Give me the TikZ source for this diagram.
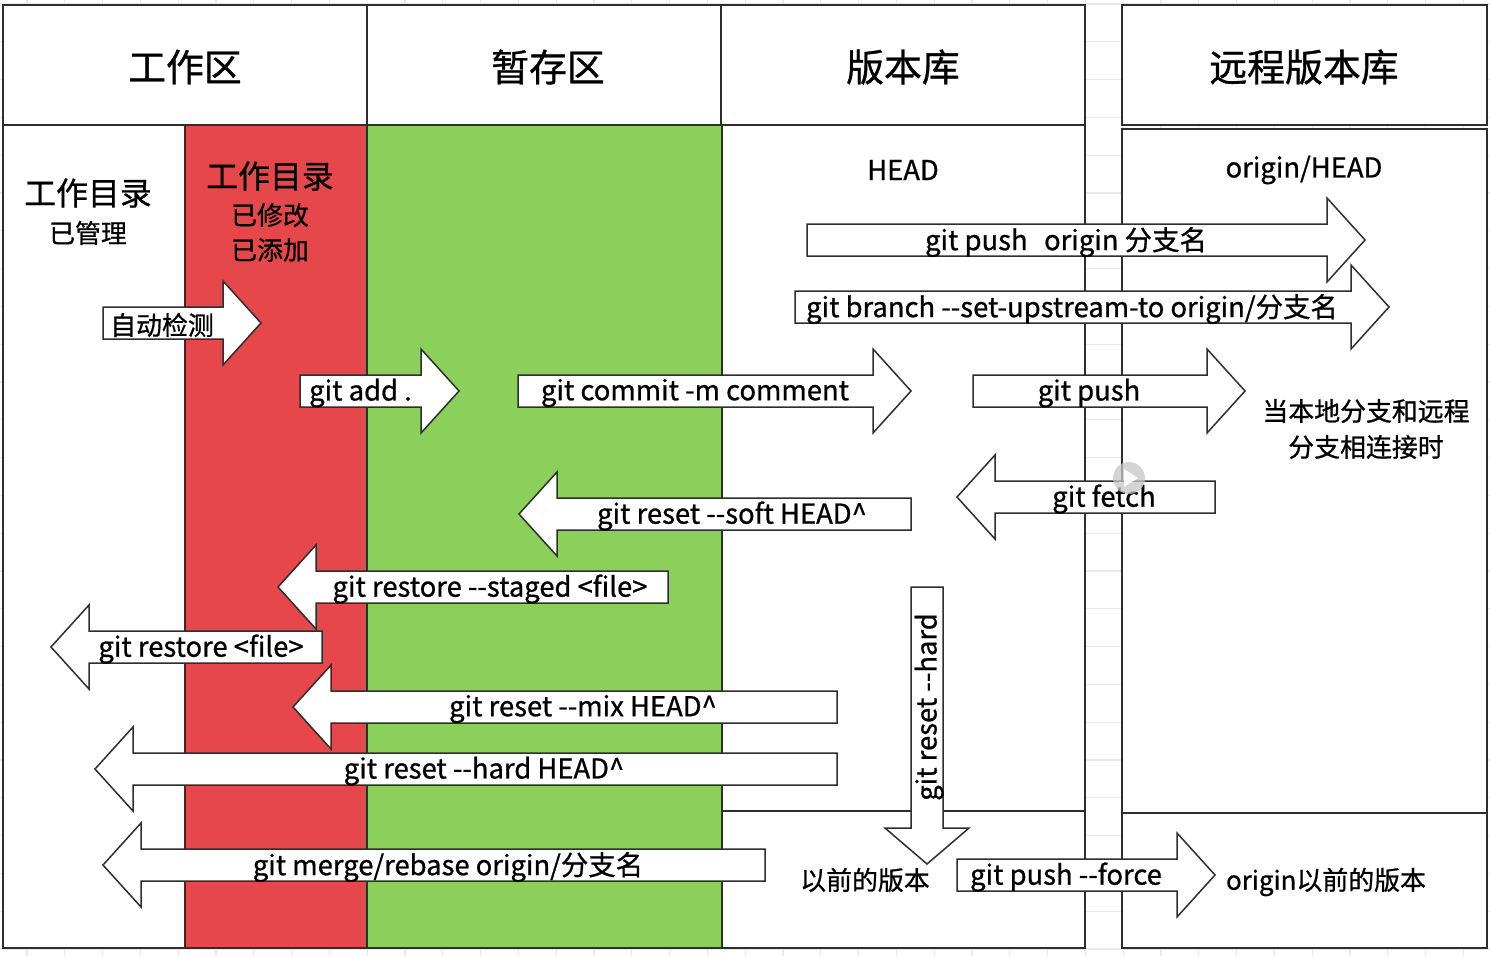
\documentclass[tikz,border=0pt]{standalone}
\usepackage{fontspec}
\setmainfont{Noto Sans CJK SC}[FakeBold=0.8]
\definecolor{redc}{HTML}{E5474B}
\definecolor{greenc}{HTML}{8BD05A}
\definecolor{linec}{HTML}{2E2E2E}
\definecolor{gridc}{HTML}{E8E8E8}
\newcommand{\dd}{-{}-}
\newcommand{\RArr}[3]{\draw[blockarrow] (#1,{#3-16}) -- ({#2-38},{#3-16}) -- ({#2-38},{#3-42}) -- (#2,#3) -- ({#2-38},{#3+42}) -- ({#2-38},{#3+16}) -- (#1,{#3+16}) -- cycle;}
\newcommand{\LArr}[3]{\draw[blockarrow] (#2,{#3-16}) -- ({#1+38},{#3-16}) -- ({#1+38},{#3-42}) -- (#1,#3) -- ({#1+38},{#3+42}) -- ({#1+38},{#3+16}) -- (#2,{#3+16}) -- cycle;}
\newcommand{\DArr}[3]{\draw[blockarrow] ({#1-16},#2) -- ({#1-16},{#3-36}) -- ({#1-42},{#3-36}) -- (#1,#3) -- ({#1+42},{#3-36}) -- ({#1+16},{#3-36}) -- ({#1+16},#2) -- cycle;}
\tikzset{
  frame/.style={draw=linec, line width=2bp},
  blockarrow/.style={draw=linec, line width=1.5bp, fill=white, line join=miter},
  lbl/.style={inner sep=0pt, font=\fontsize{26}{30}\selectfont, text=black},
  albl/.style={inner sep=0pt, font=\fontsize{27.5}{32}\selectfont, text=black},
  big/.style={inner sep=0pt, font=\fontsize{38}{44}\selectfont, text=black},
  mid/.style={inner sep=0pt, font=\fontsize{32}{38}\selectfont, text=black},
}
\begin{document}
\begin{tikzpicture}[x=1bp, y=-1bp]
\useasboundingbox (0,0) rectangle (1490,956);
\fill[white] (0,0) rectangle (1490,956);
% background grid
\foreach \i in {0,...,38} \draw[gridc, line width=1.2bp] ({27+37.8*\i},0) -- ({27+37.8*\i},956);
\foreach \j in {0,...,25} \draw[gridc, line width=1.2bp] (0,{4+37.8*\j}) -- (1490,{4+37.8*\j});
% left block
\filldraw[frame, fill=white] (3,5) rectangle (1085,948);
\filldraw[frame, fill=redc] (185,125) rectangle (367,948);
\filldraw[frame, fill=greenc] (367,125) rectangle (722,948);
\draw[frame] (3,125) -- (1085,125);
\draw[frame] (367,5) -- (367,125);
\draw[frame] (721,5) -- (721,125);
\draw[frame] (722,811) -- (1085,811);
% right block
\filldraw[frame, fill=white] (1122,5) rectangle (1487,125);
\filldraw[frame, fill=white] (1122,129) rectangle (1487,813);
\filldraw[frame, fill=white] (1122,813) rectangle (1487,948);
% headers
\node[big] (h1) at (185,67) {工作区};
\node[big] (h2) at (548,67) {暂存区};
\node[big] (h3) at (903,67) {版本库};
\node[big] (h4) at (1304,67) {远程版本库};
% column labels
\node[mid] (w1) at (88,193) {工作目录};
\node[lbl] (w2) at (88,233) {已管理};
\node[mid] (r1) at (270,176) {工作目录};
\node[lbl] (r2) at (270,215) {已修改};
\node[lbl] (r3) at (270,250) {已添加};
\node[albl] (head) at (903,170) {HEAD};
\node[albl] (ohead) at (1304,170) {origin/HEAD};
\node[lbl] (conn1) at (1366,411) {当本地分支和远程};
\node[lbl] (conn2) at (1366,447) {分支相连接时};
\node[lbl] (prev) at (865,880) {以前的版本};
\node[lbl] (oprev) at (1326,882) {origin以前的版本};
% arrows
\RArr{103}{261}{323}
\node[lbl, anchor=west] (t1) at (110,325) {自动检测};
\RArr{300}{459}{391}
\node[albl, anchor=west] (t2) at (309,393) {git add .};
\RArr{518}{911}{391}
\node[albl] (t3) at (695,393) {git commit -m comment};
\RArr{973}{1245}{391}
\node[albl] (t4) at (1089,393) {git push};
\LArr{957}{1215}{497}
\node[albl] (t5) at (1104,499) {git fetch};
\LArr{519}{911}{514}
\node[albl] (t6) at (732,516) {git reset \dd soft HEAD\textasciicircum};
\LArr{278}{668}{587}
\node[albl] (t7) at (490,589) {git restore \dd staged <file>};
\LArr{51}{322}{647}
\node[albl] (t8) at (201,649) {git restore <file>};
\LArr{293}{837}{707}
\node[albl] (t9) at (583,709) {git reset \dd mix HEAD\textasciicircum};
\LArr{95}{837}{769}
\node[albl] (t10) at (484,771) {git reset \dd hard HEAD\textasciicircum};
\LArr{103}{765}{865}
\node[albl] (t11) at (448,867) {git merge/rebase origin/分支名};
\RArr{957}{1215}{875}
\node[albl] (t12) at (1066,877) {git push \dd force};
\RArr{807}{1365}{240}
\node[albl] (t13) at (1066,242) {git push\hspace{0.6em}origin 分支名};
\RArr{795}{1389}{307}
\node[albl] (t14) at (1072,309) {git branch \dd set-upstream-to origin/分支名};
\DArr{927}{587}{864}
\node[albl, rotate=90] (t15) at (929,707) {git reset \dd hard};
% overlay icon
\fill[gray!45, opacity=0.75] (1129,478) circle (16);
\fill[white, opacity=0.9] (1124,469) -- (1138,478) -- (1124,487) -- cycle;
\end{tikzpicture}
\end{document}
